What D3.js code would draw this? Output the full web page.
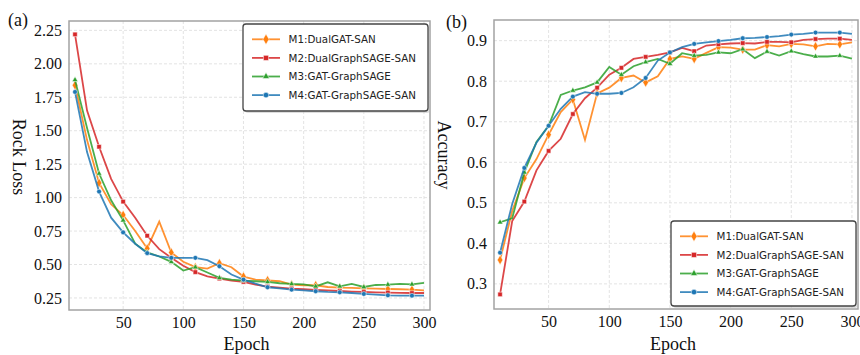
<!DOCTYPE html>
<html>
<head>
<meta charset="utf-8">
<script src="https://cdn.jsdelivr.net/npm/d3@7"></script>
<style>
  body { margin: 0; background: #fff; }
</style>
</head>
<body>
<div id="chart"></div>
<script>
// epochs 10..300, one value every 10 epochs
const epochs = [10, 20, 30, 40, 50, 60, 70, 80, 90, 100, 110, 120, 130, 140, 150,
                160, 170, 180, 190, 200, 210, 220, 230, 240, 250, 260, 270, 280, 290, 300];
const models = ["M1:DualGAT-SAN", "M2:DualGraphSAGE-SAN", "M3:GAT-GraphSAGE", "M4:GAT-GraphSAGE-SAN"];

const lossM1 = [1.84, 1.43, 1.11, 0.95, 0.87, 0.75, 0.62, 0.82, 0.59, 0.52, 0.48, 0.47, 0.51, 0.48, 0.41,
                0.387, 0.382, 0.375, 0.35, 0.345, 0.345, 0.332, 0.327, 0.325, 0.322, 0.32, 0.317, 0.315, 0.312, 0.307];
const lossM2 = [2.22, 1.65, 1.38, 1.14, 0.97, 0.85, 0.715, 0.615, 0.55, 0.49, 0.443, 0.412, 0.395, 0.38, 0.37,
                0.35, 0.335, 0.327, 0.32, 0.315, 0.31, 0.306, 0.302, 0.298, 0.295, 0.292, 0.29, 0.288, 0.287, 0.287];
const lossM3 = [1.88, 1.52, 1.18, 0.98, 0.83, 0.655, 0.59, 0.56, 0.52, 0.455, 0.48, 0.44, 0.40, 0.387, 0.38,
                0.375, 0.37, 0.36, 0.355, 0.352, 0.337, 0.367, 0.337, 0.355, 0.332, 0.347, 0.35, 0.355, 0.352, 0.362];
const lossM4 = [1.79, 1.34, 1.045, 0.85, 0.74, 0.655, 0.585, 0.56, 0.55, 0.55, 0.55, 0.532, 0.487, 0.425, 0.387,
                0.357, 0.33, 0.322, 0.312, 0.307, 0.30, 0.295, 0.292, 0.287, 0.28, 0.275, 0.27, 0.267, 0.267, 0.267];

const accM1 = [0.359, 0.48, 0.561, 0.608, 0.668, 0.724, 0.755, 0.655, 0.77, 0.784, 0.808, 0.814, 0.797, 0.812, 0.855,
               0.861, 0.855, 0.87, 0.884, 0.883, 0.878, 0.878, 0.889, 0.886, 0.892, 0.891, 0.886, 0.892, 0.891, 0.896];
const accM2 = [0.274, 0.455, 0.503, 0.58, 0.628, 0.658, 0.719, 0.758, 0.784, 0.816, 0.833, 0.855, 0.86, 0.865, 0.871,
               0.882, 0.874, 0.888, 0.891, 0.893, 0.894, 0.893, 0.897, 0.897, 0.896, 0.902, 0.904, 0.905, 0.905, 0.902];
const accM3 = [0.452, 0.462, 0.575, 0.65, 0.69, 0.766, 0.777, 0.785, 0.797, 0.835, 0.816, 0.837, 0.847, 0.855, 0.843,
               0.869, 0.863, 0.865, 0.871, 0.869, 0.879, 0.857, 0.873, 0.863, 0.874, 0.867, 0.861, 0.861, 0.863, 0.856];
const accM4 = [0.377, 0.497, 0.586, 0.648, 0.69, 0.732, 0.762, 0.773, 0.769, 0.769, 0.771, 0.785, 0.808, 0.851, 0.871,
               0.884, 0.892, 0.896, 0.899, 0.902, 0.906, 0.907, 0.909, 0.911, 0.915, 0.917, 0.92, 0.92, 0.92, 0.917];

const xTicks = [50, 100, 150, 200, 250, 300];
const lossTicks = [0.25, 0.50, 0.75, 1.00, 1.25, 1.50, 1.75, 2.00, 2.25];
const accTicks = [0.3, 0.4, 0.5, 0.6, 0.7, 0.8, 0.9];

const colors = ["#ff7f0e", "#d62728", "#2ca02c", "#1f77b4"];
const symbols = [d3.symbolDiamond, d3.symbolSquare, d3.symbolTriangle, d3.symbolCircle];
const symSizes = [26, 20, 14, 18];

const W = 860, H = 355;
const svg = d3.select("#chart").append("svg")
    .attr("width", W)
    .attr("height", H)
    .style("font-family", "'Liberation Serif', 'Times New Roman', serif");

function panel(opts) {
    const { left, right, top, bottom, series, yDomain, yTicks, yFmt, yLabel, yLabelY, tag, tagX, tagY, legend } = opts;
    const x = d3.scaleLinear().domain([5, 305]).range([left, right]);
    const y = d3.scaleLinear().domain(yDomain).range([bottom, top]);
    const g = svg.append("g");

    // grid
    g.selectAll(".gx").data(xTicks).join("line")
        .attr("x1", d => x(d)).attr("x2", d => x(d))
        .attr("y1", top).attr("y2", bottom)
        .attr("stroke", "#dcdcdc").attr("stroke-width", 0.8).attr("stroke-dasharray", "3,2");
    g.selectAll(".gy").data(yTicks).join("line")
        .attr("x1", left).attr("x2", right)
        .attr("y1", d => y(d)).attr("y2", d => y(d))
        .attr("stroke", "#dcdcdc").attr("stroke-width", 0.8).attr("stroke-dasharray", "3,2");

    // axes (labels only, no tick marks)
    const xa = g.append("g").attr("transform", `translate(0,${bottom})`)
        .call(d3.axisBottom(x).tickValues(xTicks).tickSize(0).tickPadding(7));
    const ya = g.append("g").attr("transform", `translate(${left},0)`)
        .call(d3.axisLeft(y).tickValues(yTicks).tickFormat(yFmt).tickSize(0).tickPadding(7));
    [xa, ya].forEach(a => {
        a.select(".domain").remove();
        a.selectAll("text").attr("font-family", "'Liberation Serif', serif")
            .attr("font-size", 16).attr("fill", "#111");
    });

    // lines
    const line = d3.line().x((d, i) => x(epochs[i])).y(d => y(d));
    series.forEach((s, k) => {
        g.append("path").datum(s)
            .attr("d", line)
            .attr("fill", "none")
            .attr("stroke", colors[k])
            .attr("stroke-opacity", 0.85)
            .attr("stroke-width", 1.8);
        g.selectAll(".m" + k).data(s.filter((d, i) => i % 2 === 0)).join("path")
            .attr("transform", (d, j) => `translate(${x(epochs[j * 2])},${y(d)})`)
            .attr("d", d3.symbol(symbols[k], symSizes[k]))
            .attr("fill", colors[k])
            .attr("stroke", "#fff")
            .attr("stroke-width", 0.5);
    });

    // frame
    g.append("rect")
        .attr("x", left).attr("y", top)
        .attr("width", right - left).attr("height", bottom - top)
        .attr("fill", "none").attr("stroke", "#a3a3a3").attr("stroke-width", 1.5);

    // axis titles
    svg.append("text")
        .attr("x", (left + right) / 2 - 3).attr("y", 350)
        .attr("text-anchor", "middle").attr("font-size", 18).attr("fill", "#111")
        .text("Epoch");
    svg.append("text")
        .attr("transform", `translate(${left - 56},${yLabelY}) rotate(90)`)
        .attr("text-anchor", "middle").attr("font-size", 18).attr("fill", "#111")
        .text(yLabel);
    svg.append("text")
        .attr("x", tagX).attr("y", tagY)
        .attr("font-size", 18).attr("fill", "#111")
        .text(tag);

    // legend
    const L = legend;
    svg.append("rect")
        .attr("x", L.x + 2).attr("y", L.y + 2)
        .attr("width", L.w).attr("height", L.h).attr("rx", 3)
        .attr("fill", "#bbb").attr("opacity", 0.5);
    svg.append("rect")
        .attr("x", L.x).attr("y", L.y)
        .attr("width", L.w).attr("height", L.h).attr("rx", 3)
        .attr("fill", "#fff").attr("stroke", "#444").attr("stroke-width", 1.3);
    models.forEach((m, k) => {
        const ry = L.y + 15.3 + k * 18.6;
        const hx = L.x + 9;
        svg.append("line")
            .attr("x1", hx).attr("x2", hx + 28)
            .attr("y1", ry).attr("y2", ry)
            .attr("stroke", colors[k]).attr("stroke-opacity", 0.85).attr("stroke-width", 1.8);
        svg.append("path")
            .attr("transform", `translate(${hx + 14},${ry})`)
            .attr("d", d3.symbol(symbols[k], symSizes[k] + 6))
            .attr("fill", colors[k]).attr("stroke", "#fff").attr("stroke-width", 0.5);
        svg.append("text")
            .attr("x", L.x + 45.5).attr("y", ry + 3.8)
            .attr("font-family", "'DejaVu Sans', sans-serif")
            .attr("font-size", 10.3).attr("fill", "#222")
            .text(m);
    });
}

panel({
    left: 69, right: 430, top: 21, bottom: 310,
    series: [lossM1, lossM2, lossM3, lossM4],
    yDomain: [0.16, 2.32], yTicks: lossTicks, yFmt: d3.format(".2f"),
    yLabel: "Rock Loss", yLabelY: 157,
    tag: "(a)", tagX: 8, tagY: 26,
    legend: { x: 243, y: 24, w: 185, h: 87 }
});

panel({
    left: 494, right: 858, top: 20, bottom: 309,
    series: [accM1, accM2, accM3, accM4],
    yDomain: [0.238, 0.951], yTicks: accTicks, yFmt: d3.format(".1f"),
    yLabel: "Accuracy", yLabelY: 155,
    tag: "(b)", tagX: 446, tagY: 28,
    legend: { x: 671, y: 221, w: 185, h: 85 }
});
</script>
</body>
</html>
